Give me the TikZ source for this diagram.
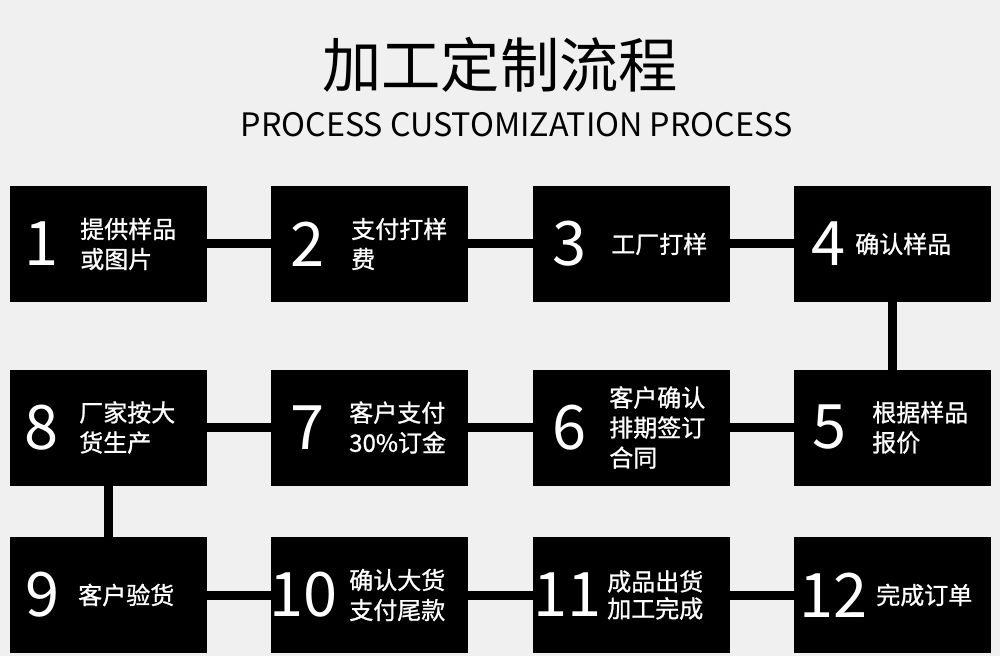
\documentclass[tikz,border=0pt]{standalone}
\usepackage{fontspec}
\setmainfont{Noto Sans CJK SC}
\newfontfamily\boxfont[FakeBold=1]{Noto Sans CJK SC}
\usepackage{tikz}
\usetikzlibrary{calc}
\definecolor{bggray}{RGB}{240,240,240}

\begin{document}
\begin{tikzpicture}[x=0.75pt,y=-0.75pt]
\tikzstyle{stepbox}=[fill=black,minimum width=147.75pt,minimum height=87pt,inner sep=0pt,outer sep=0pt]
\tikzstyle{num}=[text=white,font=\fontsize{46}{46}\selectfont,inner sep=0pt,anchor=west]
\tikzstyle{txt}=[text=white,font=\boxfont\fontsize{18}{22.5}\selectfont,inner sep=0pt,anchor=west,align=left]
\tikzstyle{link}=[line width=6.75pt]

\fill [bggray] (0,0) rectangle (1000,656);
\useasboundingbox (0,0) rectangle (1000,656);

\node (title) at (500,65) [font=\fontsize{44.5}{44.5}\selectfont] {加工定制流程};
\node (subtitle) at (516.5,125) [font=\fontsize{24.2}{24.2}\selectfont] {PROCESS CUSTOMIZATION PROCESS};

% row 1
\node (s1) at (108.5,244) [stepbox] {};
\node (s2) at (369.5,244) [stepbox] {};
\node (s3) at (631.5,244) [stepbox] {};
\node (s4) at (892.5,244) [stepbox] {};
% row 2
\node (s8) at (108.5,427.5) [stepbox] {};
\node (s7) at (369.5,427.5) [stepbox] {};
\node (s6) at (631.5,427.5) [stepbox] {};
\node (s5) at (892.5,427.5) [stepbox] {};
% row 3
\node (s9) at (108.5,595) [stepbox] {};
\node (s10) at (369.5,595) [stepbox] {};
\node (s11) at (631.5,595) [stepbox] {};
\node (s12) at (892.5,595) [stepbox] {};

\draw [link] (s1.east) -- (s2.west);
\draw [link] (s2.east) -- (s3.west);
\draw [link] (s3.east) -- (s4.west);
\draw [link] (s4.south) -- (s5.north);
\draw [link] (s5.west) -- (s6.east);
\draw [link] (s6.west) -- (s7.east);
\draw [link] (s7.west) -- (s8.east);
\draw [link] (s8.south) -- (s9.north);
\draw [link] (s9.east) -- (s10.west);
\draw [link] (s10.east) -- (s11.west);
\draw [link] (s11.east) -- (s12.west);

\node (n1) at ($(s1.west)+(14,0)$) [num] {1};
\node (t1) at ($(s1.west)+(70,0)$) [txt] {提供样品\\或图片};
\node (n2) at ($(s2.west)+(19,0)$) [num] {2};
\node (t2) at ($(s2.west)+(80,0)$) [txt] {支付打样\\费};
\node (n3) at ($(s3.west)+(19,0)$) [num] {3};
\node (t3) at ($(s3.west)+(78,0)$) [txt] {工厂打样};
\node (n4) at ($(s4.west)+(17,0)$) [num] {4};
\node (t4) at ($(s4.west)+(61,0)$) [txt] {确认样品};
\node (n5) at ($(s5.west)+(18,0)$) [num] {5};
\node (t5) at ($(s5.west)+(78,0)$) [txt] {根据样品\\报价};
\node (n6) at ($(s6.west)+(19,0)$) [num] {6};
\node (t6) at ($(s6.west)+(76,0)$) [txt] {客户确认\\排期签订\\合同};
\node (n7) at ($(s7.west)+(19,0)$) [num] {7};
\node (t7) at ($(s7.west)+(78,0)$) [txt] {客户支付\\30\%订金};
\node (n8) at ($(s8.west)+(14,0)$) [num] {8};
\node (t8) at ($(s8.west)+(69,0)$) [txt] {厂家按大\\货生产};
\node (n9) at ($(s9.west)+(15,0)$) [num] {9};
\node (t9) at ($(s9.west)+(68,0)$) [txt] {客户验货};
\node (n10) at ($(s10.west)+(-2,0)$) [num] {10};
\node (t10) at ($(s10.west)+(78,0)$) [txt] {确认大货\\支付尾款};
\node (n11) at ($(s11.west)+(0,0)$) [num] {11};
\node (t11) at ($(s11.west)+(74,0)$) [txt,font=\boxfont\fontsize{18}{20.25}\selectfont] {成品出货\\加工完成};
\node (n12) at ($(s12.west)+(5.5,0)$) [num] {12};
\node (t12) at ($(s12.west)+(82,0)$) [txt] {完成订单};
\end{tikzpicture}
\end{document}
